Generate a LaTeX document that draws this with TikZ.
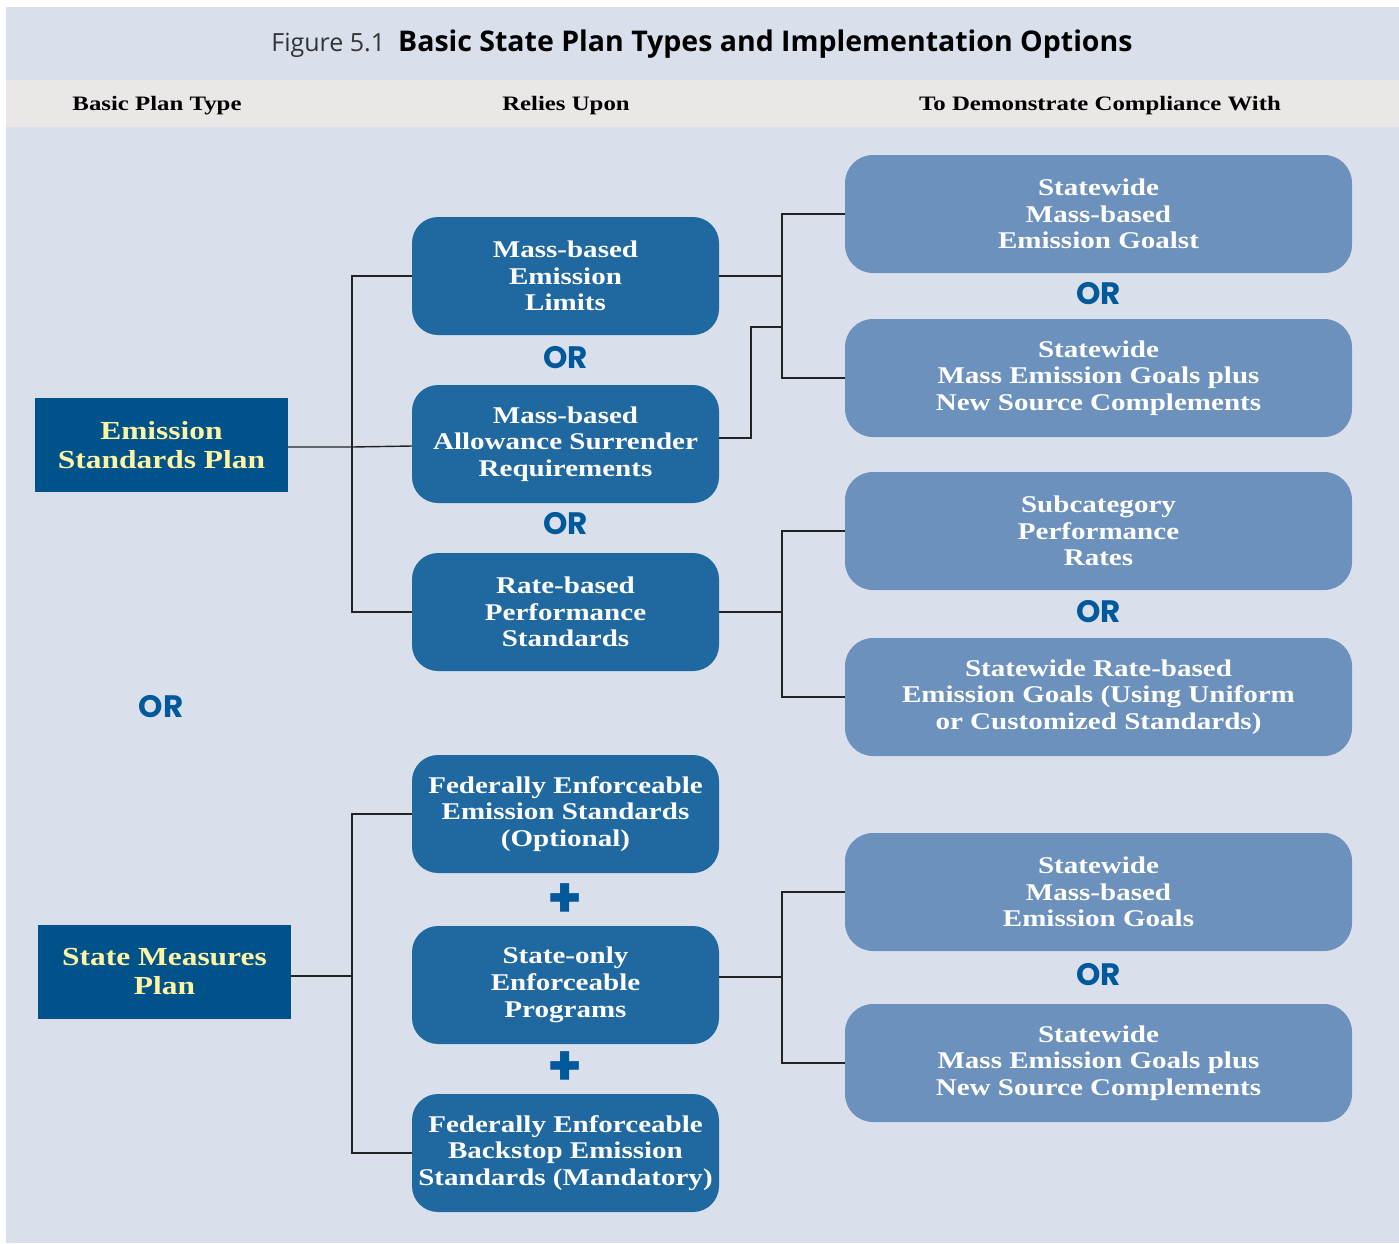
\documentclass[tikz,border=0pt]{standalone}
\usepackage{fontspec}
\setmainfont{Liberation Serif}
\newfontfamily\boxfont{Liberation Serif}[FakeStretch=1.21]
\newfontfamily\titlefont{Open Sans}
\newfontfamily\orfont{Poppins}
\definecolor{bgblue}{HTML}{D9E0EC}
\definecolor{hdrgray}{HTML}{EBE7E6}
\definecolor{planblue}{HTML}{00538A}
\definecolor{midblue}{HTML}{2068A0}
\definecolor{rightblue}{HTML}{6D91BD}
\definecolor{orblue}{HTML}{00599A}
\definecolor{planyellow}{HTML}{FFF4A3}
\definecolor{linegray}{HTML}{222222}
\tikzset{
  planbox/.style={fill=planblue, text=planyellow, minimum width=253pt, minimum height=94pt, inner sep=0pt, align=center,
    font=\boxfont\bfseries\fontsize{26}{29}\selectfont},
  midbox/.style={fill=midblue, text=white, rounded corners=26pt, minimum width=307pt, minimum height=118pt, inner sep=0pt, align=center,
    font=\boxfont\bfseries\fontsize{24}{26.7}\selectfont},
  rightbox/.style={fill=rightblue, text=white, rounded corners=28pt, minimum width=507pt, minimum height=118pt, inner sep=0pt, align=center,
    font=\boxfont\bfseries\fontsize{24}{26.7}\selectfont},
  orlabel/.style={text=orblue, inner sep=0pt, font=\orfont\bfseries\fontsize{31}{33}\selectfont},
  pluslabel/.style={text=orblue, inner sep=0pt, font=\orfont\bfseries\fontsize{56}{56}\selectfont},
  hdrlabel/.style={inner sep=0pt, font=\boxfont\bfseries\fontsize{20.5}{24}\selectfont},
  conn/.style={draw=linegray, line width=1.4pt}
}
\begin{document}
\begin{tikzpicture}[x=1pt,y=-1pt]
\useasboundingbox (0,0) rectangle (1399,1243);
\fill[bgblue] (6,7) rectangle (1399,1243);
\fill[hdrgray] (6,80) rectangle (1399,127);

\node[inner sep=0pt] (title) at (702,44) {{\titlefont\color{black!80}\fontsize{25}{30}\selectfont Figure 5.1}\hspace{13pt}{\titlefont\bfseries\fontsize{28.5}{32}\selectfont Basic State Plan Types and Implementation Options}};

\node[hdrlabel] (h1) at (157,106) {Basic Plan Type};
\node[hdrlabel] (h2) at (566,106) {Relies Upon};
\node[hdrlabel] (h3) at (1100,106) {To Demonstrate Compliance With};

% left plan boxes
\node[planbox] (esp) at (161.5,445) {Emission\\Standards Plan};
\node[planbox] (smp) at (164.5,972) {State Measures\\Plan};
\node[orlabel] (orL) at (161,707) {OR};

% middle boxes
\node[midbox] (m1) at (565.5,276) {Mass-based\\Emission\\Limits};
\node[midbox] (m2) at (565.5,444) {Mass-based\\Allowance Surrender\\Requirements};
\node[midbox] (m3) at (565.5,612) {Rate-based\\Performance\\Standards};
\node[midbox] (m4) at (565.5,814) {Federally Enforceable\\Emission Standards\\(Optional)};
\node[midbox] (m5) at (565.5,985) {State-only\\Enforceable\\Programs};
\node[midbox] (m6) at (565.5,1153) {Federally Enforceable\\Backstop Emission\\Standards (Mandatory)};
\node[orlabel] (orM1) at (565.5,358) {OR};
\node[orlabel] (orM2) at (565.5,524) {OR};
\node[pluslabel] (pl1) at (565.5,901) {+};
\node[pluslabel] (pl2) at (565.5,1069) {+};

% right boxes
\node[rightbox] (r1) at (1098.5,214) {Statewide\\Mass-based\\Emission Goalst};
\node[rightbox] (r2) at (1098.5,378) {Statewide\\Mass Emission Goals plus\\New Source Complements};
\node[rightbox] (r3) at (1098.5,531) {Subcategory\\Performance\\Rates};
\node[rightbox] (r4) at (1098.5,697) {Statewide Rate-based\\Emission Goals (Using Uniform\\or Customized Standards)};
\node[rightbox] (r5) at (1098.5,892) {Statewide\\Mass-based\\Emission Goals};
\node[rightbox] (r6) at (1098.5,1063) {Statewide\\Mass Emission Goals plus\\New Source Complements};
\node[orlabel] (orR1) at (1098.5,294) {OR};
\node[orlabel] (orR2) at (1098.5,612) {OR};
\node[orlabel] (orR3) at (1098.5,975) {OR};

% bus coordinates
\coordinate (bL) at (352,0);
\coordinate (bR) at (782,0);
\coordinate (kink) at (751,327);

% left connectors
\draw[conn] (m1.west) -- (m1.west -| bL) -- (m3.west -| bL) -- (m3.west);
\draw[conn] ([yshift=-2pt]esp.east) -- ([yshift=-2pt]esp.east -| bL) -- ([yshift=-2pt]m2.west);
\draw[conn] (m4.west) -- (m4.west -| bL) -- (m6.west -| bL) -- (m6.west);
\draw[conn] ([yshift=-4pt]smp.east) -- ([yshift=-4pt]smp.east -| bL);

% right connectors
\draw[conn] (r1.west) -- (r1.west -| bR) -- (r2.west -| bR) -- (r2.west);
\draw[conn] (m1.east) -- (m1.east -| bR);
\draw[conn] ([yshift=6pt]m2.east) -| (kink) -- (kink -| bR);
\draw[conn] (r3.west) -- (r3.west -| bR) -- (r4.west -| bR) -- (r4.west);
\draw[conn] (m3.east) -- (m3.east -| bR);
\draw[conn] (r5.west) -- (r5.west -| bR) -- (r6.west -| bR) -- (r6.west);
\draw[conn] ([yshift=8pt]m5.east) -- ([yshift=8pt]m5.east -| bR);
\end{tikzpicture}
\end{document}
